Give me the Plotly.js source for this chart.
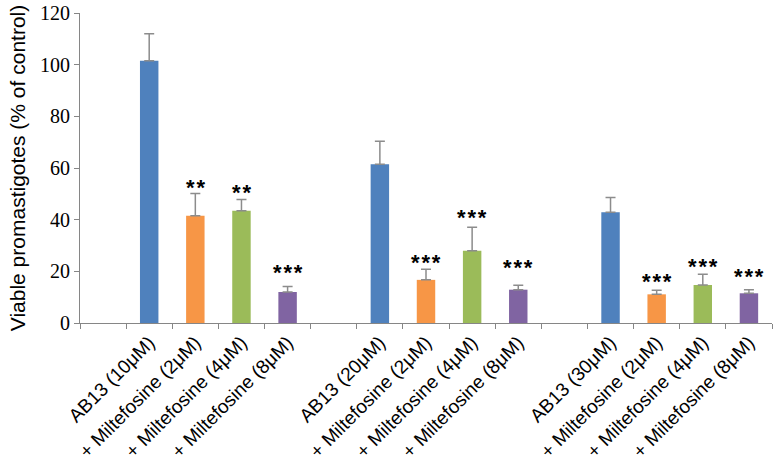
<!DOCTYPE html>
<html>
<head>
<meta charset="utf-8">
<script src="https://cdn.plot.ly/plotly-3.0.1.min.js"></script>
<style>html,body{margin:0;padding:0;background:#fff;}#chart{width:778px;height:464px;}</style>
</head>
<body>
<div id="chart"></div>
<script>
// ---- data ----
const categories = [
  'AB13 (10μM)', '+ Miltefosine (2μM)', '+ Miltefosine (4μM)', '+ Miltefosine (8μM)',
  'AB13 (20μM)', '+ Miltefosine (2μM)', '+ Miltefosine (4μM)', '+ Miltefosine (8μM)',
  'AB13 (30μM)', '+ Miltefosine (2μM)', '+ Miltefosine (4μM)', '+ Miltefosine (8μM)'
];
const groupOf = [0, 0, 0, 0, 1, 1, 1, 1, 2, 2, 2, 2];
const values = [101.5, 41.5, 43.5, 12.0, 61.5, 16.7, 28.0, 12.9, 42.9, 11.1, 14.7, 11.5];
const errors = [10.5, 8.6, 4.3, 2.1, 8.9, 4.1, 9.1, 1.7, 5.7, 1.6, 4.2, 1.4];
const significance = ['', '**', '**', '***', '', '***', '***', '***', '', '***', '***', '***'];
const sigY = [null, 54.3, 52.4, 21.3, null, 25.3, 42.8, 23.4, null, 17.9, 24.0, 19.9];
const yTitle = 'Viable promastigotes (% of control)';

// ---- styles ----
const barColors = ['#4F81BD', '#F79646', '#9BBB59', '#8064A2'];
const SANS = '"Liberation Sans", Arial, sans-serif';
const SERIF = '"Liberation Serif", "Times New Roman", serif';

// build category slots: one empty slot before each group of four bars
const slotIds = [];
const slotText = [];
const barIds = [];
let prevGroup = -1;
categories.forEach((c, i) => {
  if (groupOf[i] !== prevGroup) {
    slotIds.push('gap' + groupOf[i]); slotText.push('');
    prevGroup = groupOf[i];
  }
  const id = 'bar' + i;
  slotIds.push(id); slotText.push(c);
  barIds.push(id);
});

const trace = {
  type: 'bar',
  x: barIds,
  y: values,
  marker: {color: categories.map((c, i) => barColors[i % 4]), line: {width: 0}},
  error_y: {type: 'data', array: errors, arrayminus: errors.map(() => 0), symmetric: false,
            color: '#8C8C8C', thickness: 1.5, width: 5},
  hoverinfo: 'x+y',
  showlegend: false
};

const annotations = [];
significance.forEach((s, i) => {
  if (!s) return;
  annotations.push({
    x: barIds[i], y: sigY[i], xref: 'x', yref: 'y',
    text: s.split('').join('\u200A'), showarrow: false,
    xanchor: 'center', yanchor: 'middle', yshift: -5,
    font: {family: SANS, size: 22, color: '#000', weight: 'bold'}
  });
});

const layout = {
  width: 778, height: 464,
  margin: {l: 80, r: 6, t: 13, b: 141},
  paper_bgcolor: '#fff', plot_bgcolor: '#fff',
  bargap: 0.6,
  xaxis: {
    type: 'category',
    categoryorder: 'array', categoryarray: slotIds,
    tickmode: 'array', tickvals: slotIds, ticktext: slotText,
    tickson: 'boundaries',
    range: [-0.5, slotIds.length - 0.5],
    showline: true, linecolor: '#868686', linewidth: 1,
    ticks: 'outside', ticklen: 5, tickcolor: '#868686',
    tickangle: -45,
    tickfont: {family: SANS, size: 19, color: '#000'},
    showgrid: false, zeroline: false, fixedrange: true
  },
  yaxis: {
    range: [0, 120], dtick: 20,
    showline: true, linecolor: '#868686', linewidth: 1,
    ticks: 'outside', ticklen: 5, tickcolor: '#868686',
    tickfont: {family: SERIF, size: 20, color: '#000'},
    showgrid: false, zeroline: false,
    title: {text: yTitle, standoff: 8,
            font: {family: SANS, size: 21, color: '#000'}}
  },
  annotations: annotations
};

Plotly.newPlot('chart', [trace], layout, {displayModeBar: false, staticPlot: true});
</script>
</body>
</html>
